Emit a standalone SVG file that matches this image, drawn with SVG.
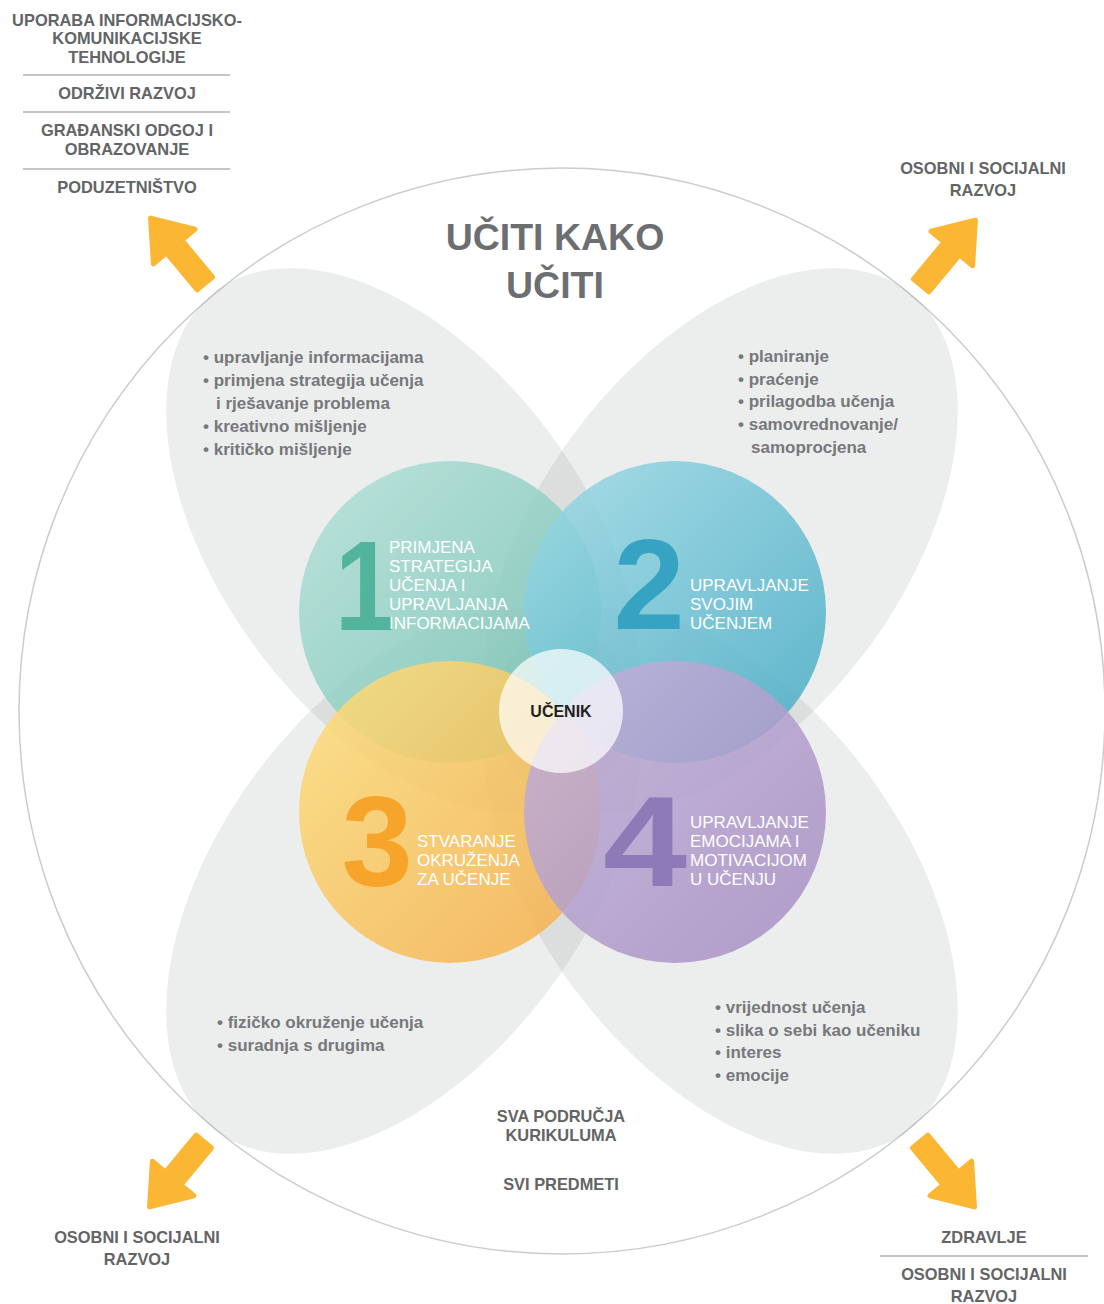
<svg xmlns="http://www.w3.org/2000/svg" width="1104" height="1304" viewBox="0 0 1104 1304">
<defs>
<style>
.lbl{font-family:"Liberation Sans",Arial,sans-serif;font-weight:bold;font-size:16.4px;fill:#636466;text-anchor:middle}
.title{font-family:"Liberation Sans",Arial,sans-serif;font-weight:bold;font-size:37.5px;fill:#6d6e71;text-anchor:middle}
.list{font-family:"Liberation Sans",Arial,sans-serif;font-weight:bold;font-size:17px;fill:#77787b}
.ctext{font-family:"Liberation Sans",Arial,sans-serif;font-size:17px;fill:#ffffff}
.num{font-family:"Liberation Sans",Arial,sans-serif;font-weight:bold;font-size:128px;text-anchor:middle}
.petal{fill:#8a8c8c;fill-opacity:0.16}
.sep{stroke:#8a8b8d;stroke-width:1.2}
.arrow{fill:#fbb734;stroke:#fbb734;stroke-width:5;stroke-linejoin:round}
.circ{fill-opacity:0.85}
</style>
<linearGradient id="g1" x1="0" y1="0" x2="1" y2="1"><stop offset="0" stop-color="#b3e1d8"/><stop offset="1" stop-color="#6fbfb0"/></linearGradient>
<linearGradient id="g2" x1="0" y1="0" x2="1" y2="1"><stop offset="0" stop-color="#9edbe6"/><stop offset="1" stop-color="#40a8c3"/></linearGradient>
<linearGradient id="g3" x1="0" y1="0" x2="1" y2="1"><stop offset="0" stop-color="#fde07c"/><stop offset="1" stop-color="#f5ac48"/></linearGradient>
<linearGradient id="g4" x1="0" y1="0" x2="1" y2="1"><stop offset="0" stop-color="#c3b2da"/><stop offset="1" stop-color="#a48cc1"/></linearGradient>
<polygon id="arw" points="4,0 41,-27 41,-10 89,-10 89,10 41,10 41,27"/>
</defs>

<rect width="1104" height="1304" fill="#ffffff"/>

<g id="outer-circle">
<circle cx="562" cy="711" r="543" fill="none" stroke="#cbcccc" stroke-width="1.5"/>
</g>

<g id="petals">
<ellipse class="petal" cx="403" cy="541" rx="312" ry="182" transform="rotate(53.3 403 541)"/>
<ellipse class="petal" cx="721" cy="541" rx="312" ry="182" transform="rotate(-53.3 721 541)"/>
<ellipse class="petal" cx="403" cy="881" rx="312" ry="182" transform="rotate(-53.3 403 881)"/>
<ellipse class="petal" cx="721" cy="881" rx="312" ry="182" transform="rotate(53.3 721 881)"/>
</g>

<g id="title">
<text class="title" x="555" y="250">UČITI KAKO</text>
<text class="title" x="555" y="298">UČITI</text>
</g>

<g id="list-1">
<text class="list" x="203" y="363">• upravljanje informacijama</text>
<text class="list" x="203" y="386">• primjena strategija učenja</text>
<text class="list" x="216" y="409">i rješavanje problema</text>
<text class="list" x="203" y="432">• kreativno mišljenje</text>
<text class="list" x="203" y="455">• kritičko mišljenje</text>
</g>
<g id="list-2">
<text class="list" x="738" y="362">• planiranje</text>
<text class="list" x="738" y="385">• praćenje</text>
<text class="list" x="738" y="407">• prilagodba učenja</text>
<text class="list" x="738" y="430">• samovrednovanje/</text>
<text class="list" x="751" y="453">samoprocjena</text>
</g>
<g id="list-3">
<text class="list" x="217" y="1028">• fizičko okruženje učenja</text>
<text class="list" x="217" y="1051">• suradnja s drugima</text>
</g>
<g id="list-4">
<text class="list" x="715" y="1013">• vrijednost učenja</text>
<text class="list" x="715" y="1036">• slika o sebi kao učeniku</text>
<text class="list" x="715" y="1058">• interes</text>
<text class="list" x="715" y="1081">• emocije</text>
</g>

<g id="node-1">
<circle class="circ" cx="450" cy="612" r="151" fill="url(#g1)"/>
</g>
<g id="node-2">
<circle class="circ" cx="675" cy="612" r="151" fill="url(#g2)"/>
</g>
<g id="node-3">
<circle class="circ" cx="450" cy="812" r="151" fill="url(#g3)"/>
</g>
<g id="node-4">
<circle class="circ" cx="675" cy="812" r="151" fill="url(#g4)"/>
</g>

<g id="node-1-text">
<text class="num" x="0" y="0" fill="#52b49c" transform="translate(365 630) scale(0.85 1)">1</text>
<text class="ctext" x="389" y="553">PRIMJENA</text>
<text class="ctext" x="389" y="572">STRATEGIJA</text>
<text class="ctext" x="389" y="591">UČENJA I</text>
<text class="ctext" x="389" y="610">UPRAVLJANJA</text>
<text class="ctext" x="389" y="629">INFORMACIJAMA</text>
</g>
<g id="node-2-text">
<text class="num" x="649" y="629" fill="#37a3c2">2</text>
<text class="ctext" x="690" y="591">UPRAVLJANJE</text>
<text class="ctext" x="690" y="610">SVOJIM</text>
<text class="ctext" x="690" y="629">UČENJEM</text>
</g>
<g id="node-3-text">
<text class="num" x="377" y="886" fill="#f7a42a">3</text>
<text class="ctext" x="417" y="847">STVARANJE</text>
<text class="ctext" x="417" y="866">OKRUŽENJA</text>
<text class="ctext" x="417" y="885">ZA UČENJE</text>
</g>
<g id="node-4-text">
<text class="num" x="0" y="0" fill="#8e7ab6" transform="translate(645 886) scale(1.18 1)">4</text>
<text class="ctext" x="690" y="828">UPRAVLJANJE</text>
<text class="ctext" x="690" y="847">EMOCIJAMA I</text>
<text class="ctext" x="690" y="866">MOTIVACIJOM</text>
<text class="ctext" x="690" y="885">U UČENJU</text>
</g>

<g id="node-ucenik">
<circle cx="561" cy="711" r="62" fill="#ffffff" fill-opacity="0.7"/>
<text x="561" y="717" font-family="Liberation Sans, Arial, sans-serif" font-weight="bold" font-size="16" fill="#231f20" text-anchor="middle">UČENIK</text>
</g>

<g id="label-top-left">
<text class="lbl" x="127" y="26">UPORABA INFORMACIJSKO-</text>
<text class="lbl" x="127" y="44">KOMUNIKACIJSKE</text>
<text class="lbl" x="127" y="63">TEHNOLOGIJE</text>
<line class="sep" x1="23" y1="75" x2="230" y2="75"/>
<text class="lbl" x="127" y="99">ODRŽIVI RAZVOJ</text>
<line class="sep" x1="23" y1="112" x2="230" y2="112"/>
<text class="lbl" x="127" y="136">GRAĐANSKI ODGOJ I</text>
<text class="lbl" x="127" y="155">OBRAZOVANJE</text>
<line class="sep" x1="23" y1="169" x2="230" y2="169"/>
<text class="lbl" x="127" y="193">PODUZETNIŠTVO</text>
</g>

<g id="label-top-right">
<text class="lbl" x="983" y="174">OSOBNI I SOCIJALNI</text>
<text class="lbl" x="983" y="196">RAZVOJ</text>
</g>

<g id="label-bottom-left">
<text class="lbl" x="137" y="1243">OSOBNI I SOCIJALNI</text>
<text class="lbl" x="137" y="1265">RAZVOJ</text>
</g>

<g id="label-bottom-right">
<text class="lbl" x="984" y="1243">ZDRAVLJE</text>
<line class="sep" x1="880" y1="1256" x2="1088" y2="1256"/>
<text class="lbl" x="984" y="1280">OSOBNI I SOCIJALNI</text>
<text class="lbl" x="984" y="1302">RAZVOJ</text>
</g>

<g id="label-bottom-center">
<text class="lbl" x="561" y="1122">SVA PODRUČJA</text>
<text class="lbl" x="561" y="1141">KURIKULUMA</text>
<text class="lbl" x="561" y="1190">SVI PREDMETI</text>
</g>

<g id="connectors">
<use href="#arw" class="arrow" transform="translate(148 215) rotate(50.3)"/>
<use href="#arw" class="arrow" transform="translate(978 217) rotate(129.7)"/>
<use href="#arw" class="arrow" transform="translate(147 1210) rotate(-50.3)"/>
<use href="#arw" class="arrow" transform="translate(977 1210) rotate(-129.7)"/>
</g>
</svg>
